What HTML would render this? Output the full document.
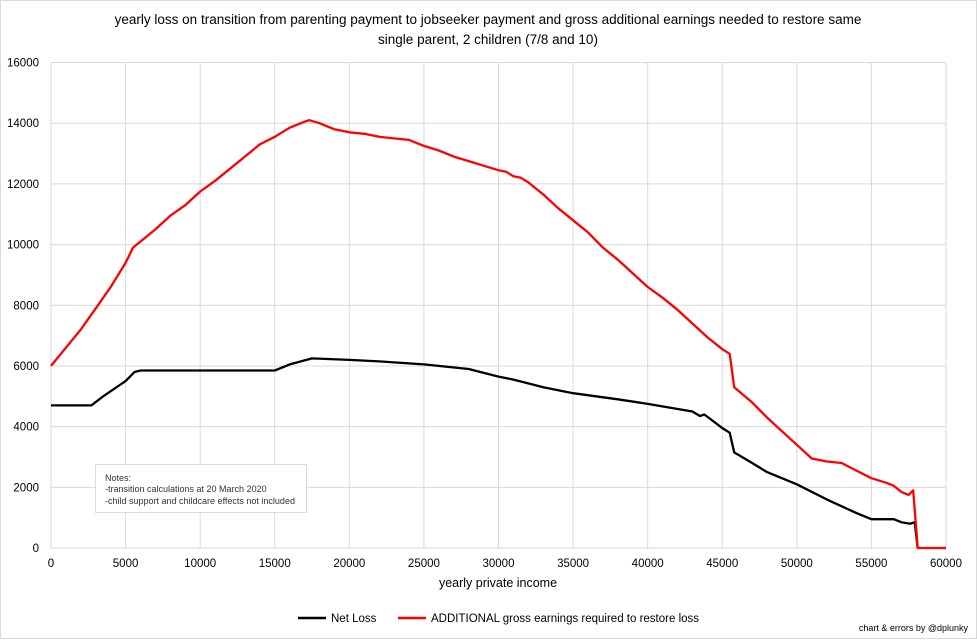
<!DOCTYPE html>
<html><head><meta charset="utf-8"><style>
body{margin:0;background:#fff;font-family:"Liberation Sans",sans-serif;}
svg text{font-family:"Liberation Sans",sans-serif;}
</style></head><body>
<svg id="c" width="977" height="639" viewBox="0 0 977 639">
<rect x="0.5" y="0.5" width="976" height="638" fill="#fff" stroke="#d9d9d9"/>
<text x="488" y="24" text-anchor="middle" font-size="13.5" fill="#000">yearly loss on transition from parenting payment to jobseeker payment and gross additional earnings needed to restore same</text>
<text x="488" y="44" text-anchor="middle" font-size="13.5" fill="#000">single parent, 2 children (7/8 and 10)</text>
<g id="grid"></g><g id="axes"></g><g id="series"></g>
<text x="498" y="587" text-anchor="middle" font-size="12.5">yearly private income</text>
<g>
<rect x="95.5" y="464.5" width="211" height="48" fill="#fff" stroke="#d9d9d9"/>
<text x="105" y="481" font-size="9" fill="#333">Notes:</text>
<text x="105" y="492" font-size="9" fill="#333">-transition calculations at 20 March 2020</text>
<text x="105" y="504" font-size="9" fill="#333">-child support and childcare effects not included</text>
</g>
<g>
<line x1="298" y1="618" x2="326" y2="618" stroke="#000" stroke-width="2.5"/>
<text x="331" y="622" font-size="11.5">Net Loss</text>
<line x1="398" y1="618" x2="426" y2="618" stroke="#f00" stroke-width="2.5"/>
<text x="431" y="622" font-size="11.5">ADDITIONAL gross earnings required to restore loss</text>
</g>
<text x="968" y="631" text-anchor="end" font-size="9">chart &amp; errors by @dplunky</text>
</svg>
<script>
const xTicks=[0,5000,10000,15000,20000,25000,30000,35000,40000,45000,50000,55000,60000];
const yTicks=[0,2000,4000,6000,8000,10000,12000,14000,16000];
const redIncome=[0,1000,2000,3000,4000,5000,5200,5500,6000,7000,8000,9000,10000,11000,12000,13000,14000,15000,16000,17000,17300,18000,19000,20000,21000,22000,23000,24000,25000,26000,27000,28000,29000,30000,30500,31000,31500,32000,33000,34000,35000,36000,37000,38000,39000,40000,41000,42000,43000,44000,45000,45500,45800,47000,48000,49000,50000,51000,52000,53000,54000,55000,56000,56500,57000,57500,57800,58100,60000];
const redValues=[6000,6600,7200,7900,8600,9400,9600,9900,10100,10500,10950,11300,11750,12100,12500,12900,13300,13550,13850,14050,14100,14000,13800,13700,13650,13550,13500,13450,13250,13100,12900,12750,12600,12450,12400,12250,12200,12050,11650,11200,10800,10400,9900,9500,9050,8600,8250,7850,7400,6950,6550,6400,5300,4800,4300,3850,3400,2950,2850,2800,2550,2300,2150,2050,1850,1750,1900,0,0];
const blackIncome=[0,2700,3500,5000,5600,6000,15000,16000,17500,20000,22000,25000,28000,30000,31000,33000,35000,38000,40000,43000,43500,43800,45000,45500,45800,47000,48000,50000,52000,54000,55000,56500,57000,57600,57900,58100];
const blackValues=[4700,4700,5000,5500,5800,5850,5850,6050,6250,6200,6150,6050,5900,5650,5550,5300,5100,4900,4750,4500,4350,4400,3950,3800,3150,2800,2500,2100,1600,1150,950,950,850,800,850,0];
const X0=51,X1=946,Y0=548,Y1=62.5;
function xs(v){return X0+(v-0)/(60000)*(X1-X0);}
function ys(v){return Y0-(v/16000)*(Y0-Y1);}
const NS="http://www.w3.org/2000/svg";
const grid=document.getElementById('grid'),axes=document.getElementById('axes'),ser=document.getElementById('series');
xTicks.forEach(t=>{
 const l=document.createElementNS(NS,'line');
 l.setAttribute('x1',xs(t));l.setAttribute('x2',xs(t));l.setAttribute('y1',Y1);l.setAttribute('y2',Y0);
 l.setAttribute('stroke','#d9d9d9');
 
 
 grid.appendChild(l);
 const tx=document.createElementNS(NS,'text');
 tx.setAttribute('x',xs(t));tx.setAttribute('y',Y0+19);tx.setAttribute('text-anchor','middle');tx.setAttribute('font-size','11.5');
 tx.textContent=t;
 
 
 axes.appendChild(tx);
});
yTicks.forEach(t=>{
 const l=document.createElementNS(NS,'line');
 l.setAttribute('x1',X0);l.setAttribute('x2',X1);l.setAttribute('y1',ys(t));l.setAttribute('y2',ys(t));
 l.setAttribute('stroke','#d9d9d9');
 
 
 grid.appendChild(l);
 const tx=document.createElementNS(NS,'text');
 tx.setAttribute('x',X0-12);tx.setAttribute('y',ys(t)+4);tx.setAttribute('text-anchor','end');tx.setAttribute('font-size','11.5');
 tx.textContent=t;
 
 
 axes.appendChild(tx);
});
function line(xa,ya,col,name){
 const p=document.createElementNS(NS,'polyline');
 p.setAttribute('points',xa.map((x,i)=>xs(x).toFixed(1)+','+ys(ya[i]).toFixed(1)).join(' '));
 p.setAttribute('fill','none');p.setAttribute('stroke',col);p.setAttribute('stroke-width','2.3');p.setAttribute('stroke-linejoin','round');
 
 
 ser.appendChild(p);
}
line(blackIncome,blackValues,'#000','net-loss-line');
line(redIncome,redValues,'#f00','additional-earnings-line');
</script>
</body></html>
